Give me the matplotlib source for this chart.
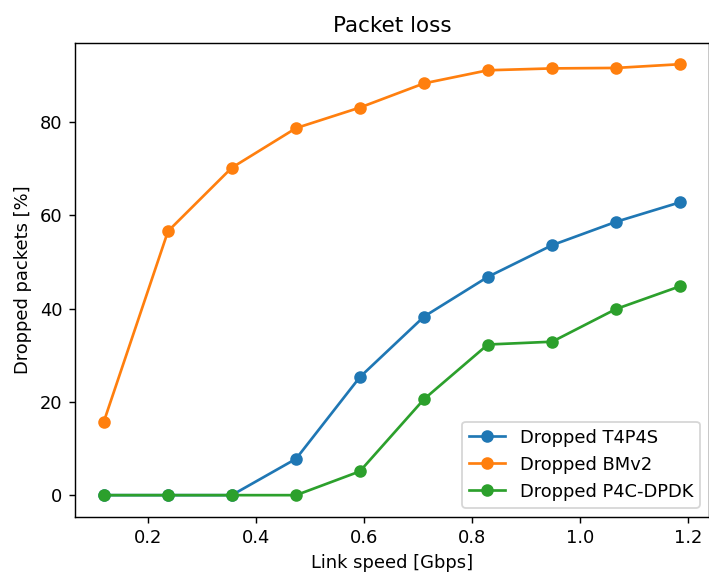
import matplotlib
matplotlib.use("Agg")
from matplotlib import pyplot as plt

# link speeds in Gbps
link_speed = [0.118, 0.237, 0.355, 0.474, 0.592, 0.711, 0.829, 0.948, 1.066, 1.185]

# dropped packets in percent
dropped_t4p4s = [0.0, 0.0, 0.0, 7.8, 25.3, 38.3, 46.8, 53.6, 58.6, 62.8]
dropped_bmv2 = [15.7, 56.6, 70.2, 78.7, 83.1, 88.3, 91.1, 91.5, 91.6, 92.4]
dropped_p4c = [0.0, 0.0, 0.0, 0.0, 5.1, 20.6, 32.3, 32.9, 39.9, 44.8]

fig = plt.figure(figsize=(5.5, 4.45), dpi=129)
ax = fig.add_axes([0.1056, 0.0998, 0.8937, 0.8258])

ax.plot(link_speed, dropped_t4p4s, marker='o', label='Dropped T4P4S')
ax.plot(link_speed, dropped_bmv2, marker='o', label='Dropped BMv2')
ax.plot(link_speed, dropped_p4c, marker='o', label='Dropped P4C-DPDK')

ax.set_title('Packet loss')
ax.set_xlabel('Link speed [Gbps]')
ax.set_ylabel('Dropped packets [%]')
ax.legend(loc='lower right')

fig.savefig('out.png', dpi=129)
